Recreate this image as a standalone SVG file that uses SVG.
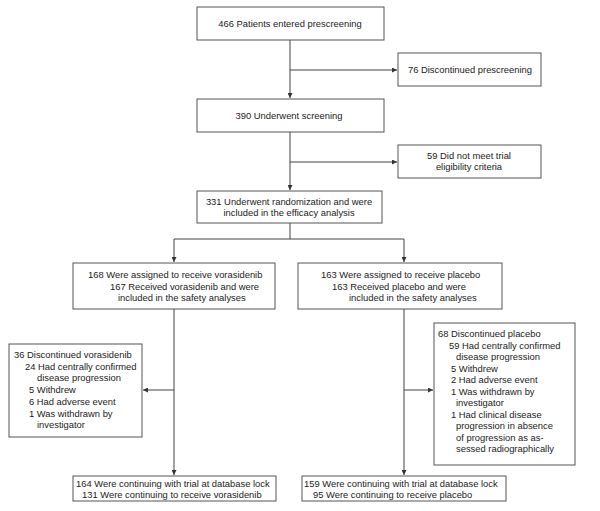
<svg xmlns="http://www.w3.org/2000/svg" width="600" height="511" viewBox="0 0 600 511">
<defs>
<style>
.box{fill:#fff;stroke:#555;stroke-width:1}
.ln{fill:none;stroke:#444;stroke-width:1}
text{font-family:"Liberation Sans",Arial,sans-serif;font-size:9.4px;fill:#222}
.c{text-anchor:middle}
</style>
<marker id="ah" viewBox="0 0 10 10" refX="10" refY="5" markerWidth="6" markerHeight="5" orient="auto" markerUnits="userSpaceOnUse">
<path d="M0,0 L10,5 L0,10 z" fill="#333"/>
</marker>
</defs>
<rect width="600" height="511" fill="#fff"/>
<g id="connectors">
<path class="ln" d="M290,40 V98" marker-end="url(#ah)"/>
<path class="ln" d="M290,70 H397" marker-end="url(#ah)"/>
<path class="ln" d="M290,132 V190" marker-end="url(#ah)"/>
<path class="ln" d="M290,162 H397" marker-end="url(#ah)"/>
<path class="ln" d="M290,223 V239"/>
<path class="ln" d="M174,239 H404"/>
<path class="ln" d="M174,239 V262" marker-end="url(#ah)"/>
<path class="ln" d="M404,239 V262" marker-end="url(#ah)"/>
<path class="ln" d="M174,309 V475" marker-end="url(#ah)"/>
<path class="ln" d="M404,309 V475" marker-end="url(#ah)"/>
<path class="ln" d="M174,390 H143" marker-end="url(#ah)"/>
<path class="ln" d="M404,390 H433" marker-end="url(#ah)"/>
</g>
<g id="n1"><rect class="box" x="197" y="7" width="187" height="33"/><text class="c" x="290" y="27">466 Patients entered prescreening</text></g>
<g id="n2"><rect class="box" x="398" y="53" width="143" height="33"/><text class="c" x="470" y="73">76 Discontinued prescreening</text></g>
<g id="n3"><rect class="box" x="197" y="99" width="187" height="33"/><text class="c" x="289" y="119">390 Underwent screening</text></g>
<g id="n4"><rect class="box" x="398" y="145" width="143" height="33"/><text class="c" x="469" y="159">59 Did not meet trial</text><text class="c" x="469" y="170">eligibility criteria</text></g>
<g id="n5"><rect class="box" x="197" y="191" width="185" height="32"/><text class="c" x="289" y="205">331 Underwent randomization and were</text><text class="c" x="289" y="216">included in the efficacy analysis</text></g>
<g id="n6"><rect class="box" x="73" y="263" width="202" height="46"/><text x="88" y="278">168 Were assigned to receive vorasidenib</text><text x="110" y="290">167 Received vorasidenib and were</text><text x="118" y="301">included in the safety analyses</text></g>
<g id="n7"><rect class="box" x="298" y="263" width="204" height="46"/><text x="321" y="278">163 Were assigned to receive placebo</text><text x="332" y="290">163 Received placebo and were</text><text x="349" y="301">included in the safety analyses</text></g>
<g id="n8"><rect class="box" x="9" y="344" width="133" height="93"/>
<text x="14" y="358">36 Discontinued vorasidenib</text>
<text x="25" y="369.7">24 Had centrally confirmed</text>
<text x="37" y="381.4">disease progression</text>
<text x="29" y="393.1">5 Withdrew</text>
<text x="29" y="404.8">6 Had adverse event</text>
<text x="29" y="416.5">1 Was withdrawn by</text>
<text x="37" y="428.2">investigator</text></g>
<g id="n9"><rect class="box" x="434" y="323" width="141" height="142"/>
<text x="438" y="337">68 Discontinued placebo</text>
<text x="449" y="348.5">59 Had centrally confirmed</text>
<text x="456" y="360">disease progression</text>
<text x="451" y="371.5">5 Withdrew</text>
<text x="451" y="383">2 Had adverse event</text>
<text x="451" y="394.5">1 Was withdrawn by</text>
<text x="456" y="406">investigator</text>
<text x="451" y="417.5">1 Had clinical disease</text>
<text x="456" y="429">progression in absence</text>
<text x="456" y="440.5">of progression as as-</text>
<text x="456" y="452">sessed radiographically</text></g>
<g id="n10"><rect class="box" x="73" y="476" width="203" height="25"/><text x="76" y="487">164 Were continuing with trial at database lock</text><text x="82" y="498">131 Were continuing to receive vorasidenib</text></g>
<g id="n11"><rect class="box" x="302" y="476" width="204" height="25"/><text x="304" y="487">159 Were continuing with trial at database lock</text><text x="313" y="498">95 Were continuing to receive placebo</text></g>
</svg>
